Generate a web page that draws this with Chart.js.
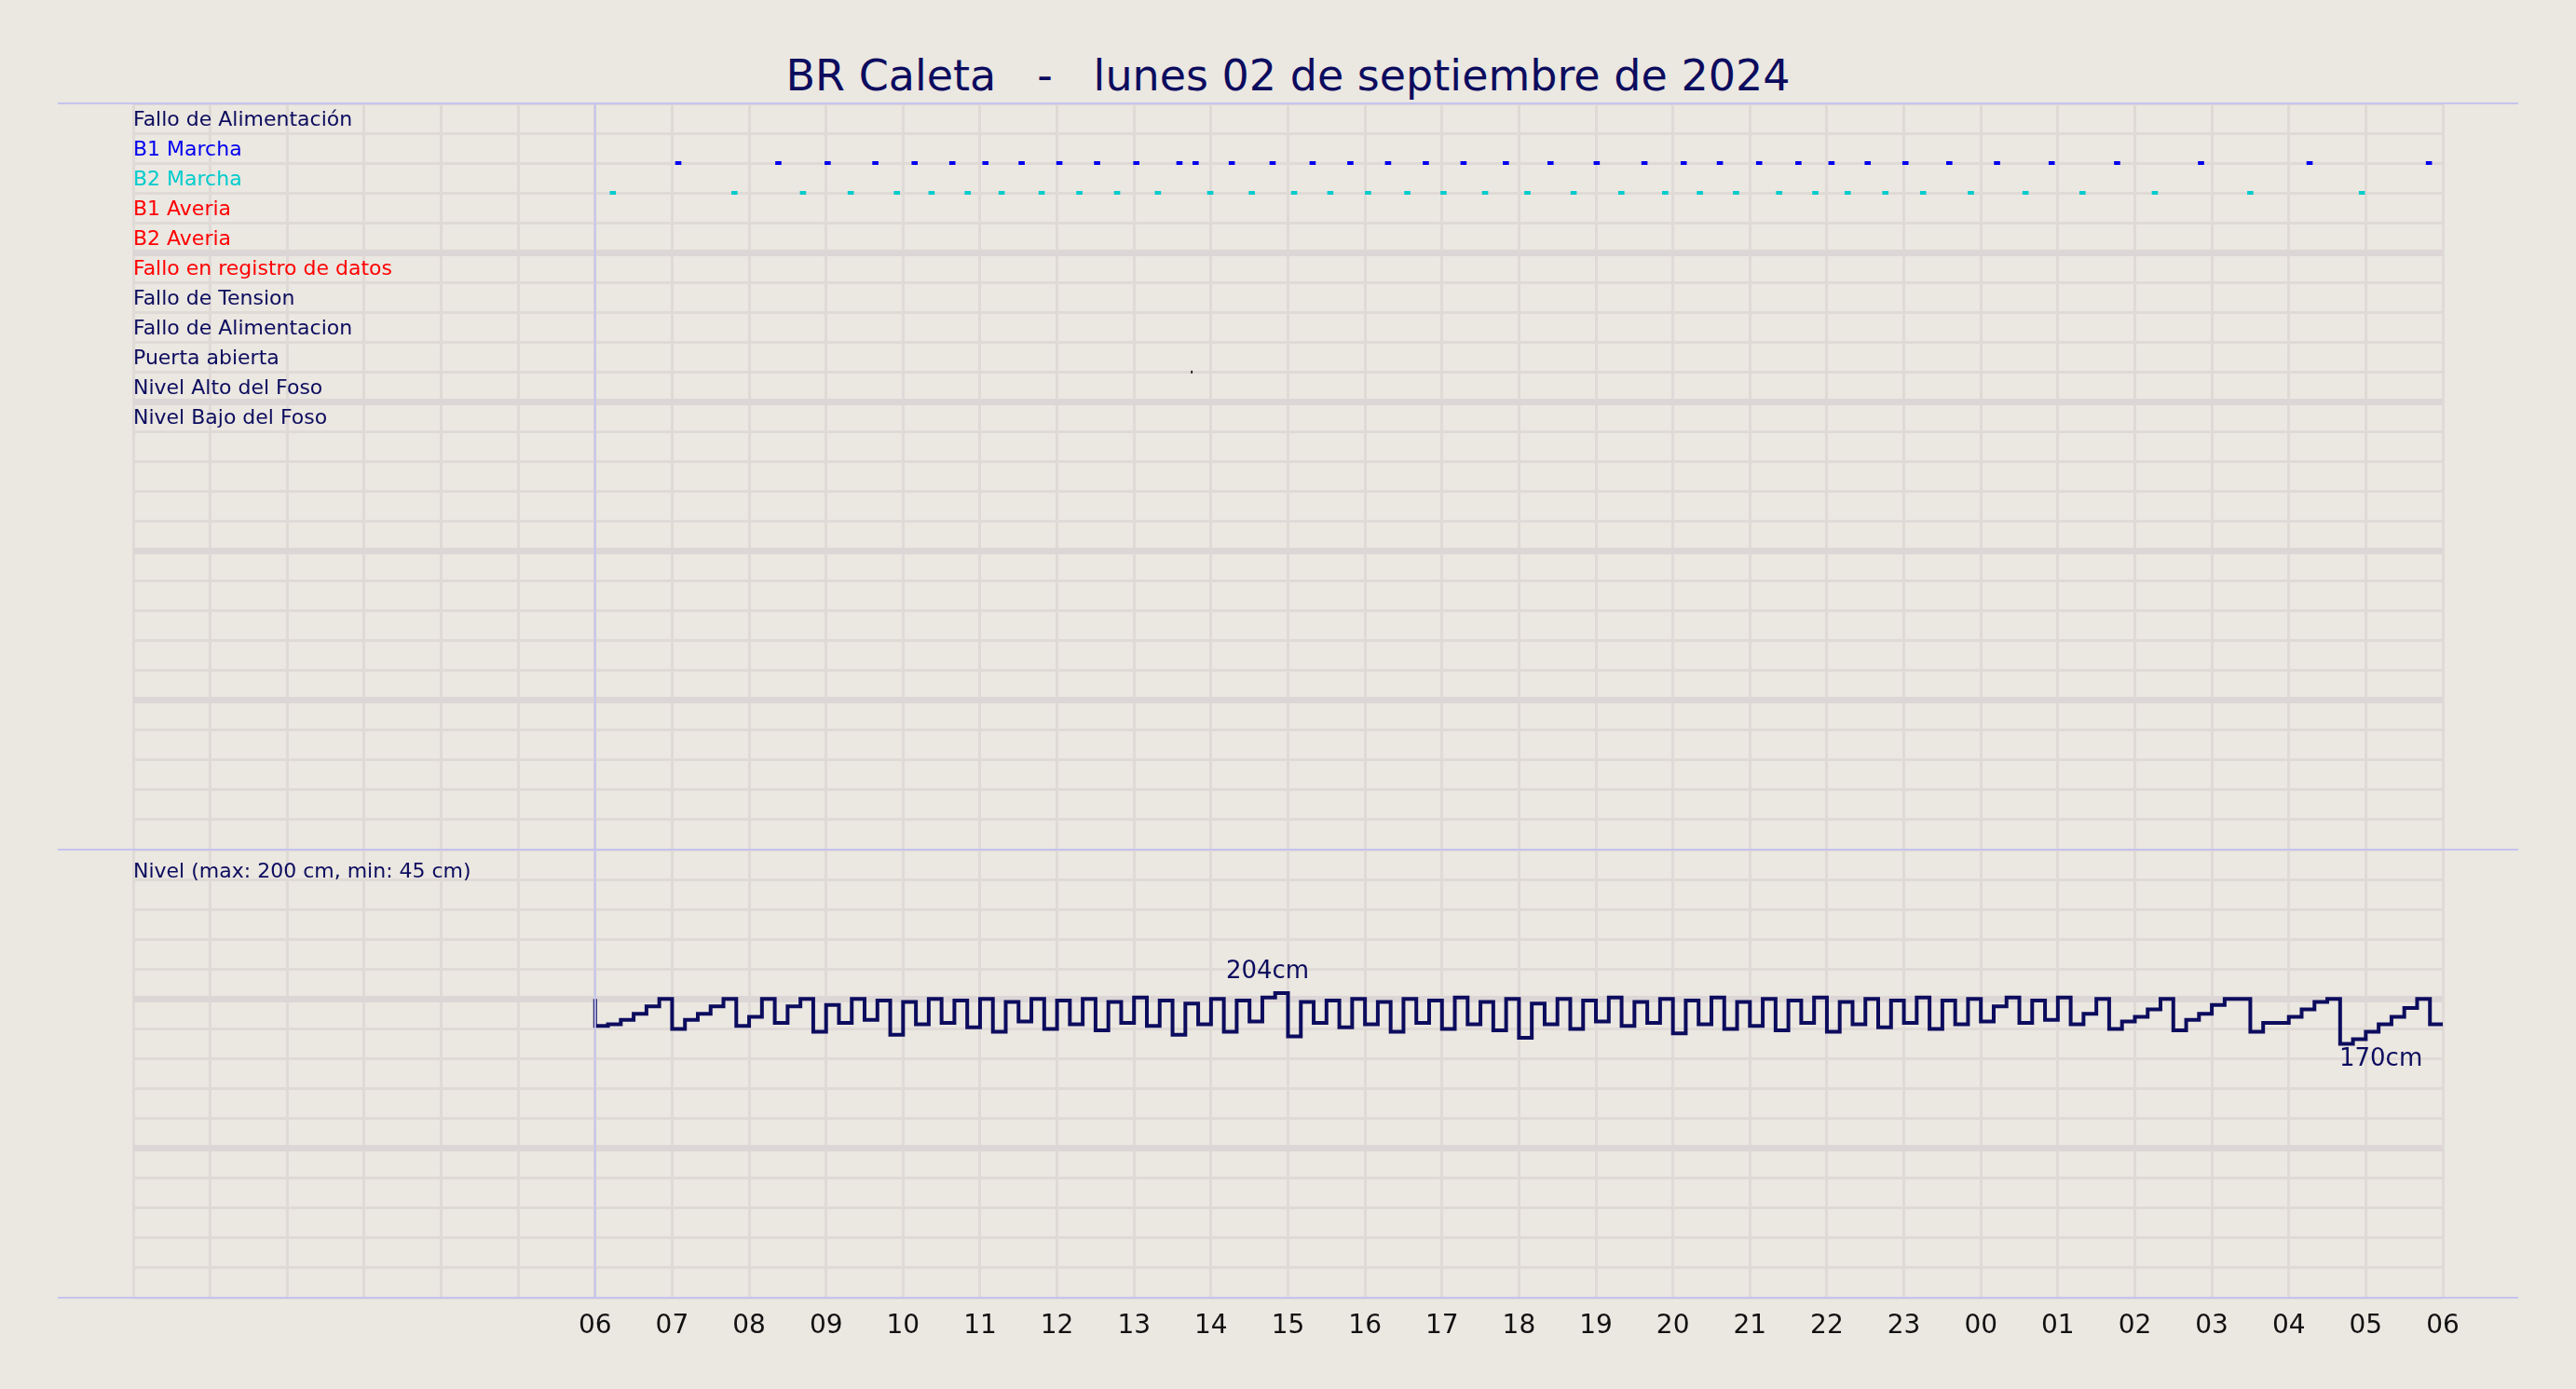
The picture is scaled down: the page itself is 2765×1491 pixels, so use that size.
<!DOCTYPE html><html><head><meta charset="utf-8">
<script src="https://cdn.jsdelivr.net/npm/chart.js@4"></script>
<style>html,body{margin:0;background:#ebe7e1;width:2765px;height:1491px;overflow:hidden;font-family:"DejaVu Sans"}
#t{position:absolute;top:54px;left:0;width:2765px;text-align:center;font-size:46px;color:#0c0c5e;white-space:pre}
canvas{position:absolute;left:0}
.hl{position:absolute;left:62px;width:2641px;height:2px;background:#c4c4ee}
</style></head><body>
<div id="t">BR Caleta   -   lunes 02 de septiembre de 2024</div>
<div style="position:absolute;top:111px;left:0;width:2765px;height:801px"><canvas id="c1"></canvas></div>
<div style="position:absolute;top:912px;left:0;width:2765px;height:579px"><canvas id="c2"></canvas></div>
<div class="hl" style="top:110px"></div><div class="hl" style="top:911px"></div><div class="hl" style="top:1392px"></div>
<script>
const categories=["Fallo de Alimentación","B1 Marcha","B2 Marcha","B1 Averia","B2 Averia","Fallo en registro de datos","Fallo de Tension","Fallo de Alimentacion","Puerta abierta","Nivel Alto del Foso","Nivel Bajo del Foso"];
const categoryColors=["#0c0c5e","#0000ee","#00cccc","#ff0000","#ff0000","#ff0000","#0c0c5e","#0c0c5e","#0c0c5e","#0c0c5e","#0c0c5e"];
const hourLabels=["06","07","08","09","10","11","12","13","14","15","16","17","18","19","20","21","22","23","00","01","02","03","04","05","06"];
const b1Events=[7.04,8.34,8.98,9.60,10.11,10.60,11.03,11.50,11.99,12.48,12.99,13.55,13.76,14.23,14.76,15.28,15.77,16.26,16.75,17.24,17.79,18.37,18.97,19.59,20.10,20.57,21.08,21.59,22.02,22.49,22.98,23.55,24.17,24.88,25.73,26.82,28.23,29.78];
const b2Events=[6.19,7.77,8.66,9.28,9.88,10.33,10.80,11.24,11.76,12.25,12.74,13.27,13.95,14.49,15.04,15.51,16.00,16.51,16.98,17.52,18.07,18.67,19.29,19.86,20.31,20.78,21.34,21.81,22.23,22.72,23.21,23.83,24.54,25.28,26.22,27.46,28.91];
const doorEvents=[13.74];
const levelStart=6; // hour
const levelValues=[
200,182,183,186,190,195, 200,180,186,190,195,200, 182,188,200,184,195,200,
178,196,184,200,186,199, 176,198,183,200,184,199, 181,200,178,198,185,200,
180,199,183,200,179,198, 184,201,182,199,176,197, 183,200,178,199,185,201,
204,175,198,184,199,181, 200,183,198,178,200,184, 199,180,201,183,198,179,
200,174,197,183,200,180, 199,185,201,182,198,184, 200,177,199,183,201,180,
198,182,200,179,199,184, 201,178,198,183,200,181, 199,184,201,180,199,183,
200,185,195,201,184,199, 186,201,183,190,200,180, 185,188,193,200,179,186,
190,196,200,200,178,184, 184,188,193,198,200,170, 173,178,183,188,194,200, 183];
const navy="#0c0c5e",grid="#e0dad7",gridThick="#ddd6d6";
const LP=143,RP=143;
function evData(arr,row,w){const d=[];arr.forEach(t=>{d.push({x:t,y:row},{x:t+w,y:row},{x:t+w,y:null});});return d;}
const xScale=(lbl)=>({type:'linear',min:0,max:30,afterFit:s=>{s.height=lbl?98:0},
 grid:{color:grid,lineWidth:3,drawTicks:false},border:{display:false},
 ticks:{display:lbl,stepSize:1,padding:14,color:'#111',font:{size:28,family:'DejaVu Sans'},autoSkip:false,maxRotation:0,
 callback:v=>v>=6?hourLabels[v-6]:''}});
const startLine={id:'sl',afterDatasetsDraw(c){const x=c.scales.x.getPixelForValue(6),a=c.chartArea,g=c.ctx;g.save();g.strokeStyle='#c4c4ee';g.lineWidth=2;g.beginPath();g.moveTo(x,a.top);g.lineTo(x,a.bottom);g.stroke();g.restore();}};
const rowLabels={id:'rl',afterDraw(c){const g=c.ctx,y=c.scales.y;g.save();g.font='22px "DejaVu Sans"';g.textBaseline='bottom';
 categories.forEach((t,i)=>{g.fillStyle=categoryColors[i];g.fillText(t,c.chartArea.left,y.getPixelForValue(i+1)-3);});g.restore();}};
new Chart(document.getElementById('c1'),{type:'line',
 data:{datasets:[
  {data:evData(b1Events,2,0.08),borderColor:'#0000ee',borderWidth:4,pointRadius:0,spanGaps:false},
  {data:evData(b2Events,3,0.08),borderColor:'#00cccc',borderWidth:4,pointRadius:0,spanGaps:false},
  {data:evData(doorEvents,9,0.02),borderColor:'#000',borderWidth:3,pointRadius:0,spanGaps:false}
 ]},
 options:{animation:false,responsive:true,maintainAspectRatio:false,layout:{padding:{left:LP,right:RP,top:0,bottom:0}},
  plugins:{legend:{display:false},tooltip:{enabled:false}},
  scales:{x:xScale(false),y:{min:0,max:25,reverse:true,afterFit:s=>{s.width=0},border:{display:false},
   grid:{drawTicks:false,color:c=>(c.tick.value%5===0)?gridThick:grid,lineWidth:c=>(c.tick.value%5===0&&c.tick.value>0&&c.tick.value<25)?7:3},
   ticks:{display:false,stepSize:1}}}},
 plugins:[startLine,rowLabels]});
const levelData=levelValues.map((v,i)=>({x:levelStart+i/6,y:v}));
const levelLabels={id:'ll',afterDatasetsDraw(c){const g=c.ctx,xs=c.scales.x,ys=c.scales.y;
 let mx=0,mn=0;levelValues.forEach((v,i)=>{if(v>levelValues[mx])mx=i;if(v<levelValues[mn])mn=i;});
 g.save();g.font='26px "DejaVu Sans"';g.fillStyle=navy;g.textAlign='center';
 g.textBaseline='bottom';g.fillText(levelValues[mx]+'cm',xs.getPixelForValue(levelData[mx].x)-22,ys.getPixelForValue(levelValues[mx])-10);
 g.textBaseline='top';g.fillText(levelValues[mn]+'cm',xs.getPixelForValue(levelData[mn].x)+30,ys.getPixelForValue(levelValues[mn])+4);
 g.font='22px "DejaVu Sans"';g.textAlign='left';g.textBaseline='top';g.fillText('Nivel (max: 200 cm, min: 45 cm)',c.chartArea.left,ys.getPixelForValue(300)+13);g.restore();}};
new Chart(document.getElementById('c2'),{type:'line',
 data:{datasets:[{data:levelData,stepped:'after',borderColor:navy,borderWidth:4,pointRadius:0}]},
 options:{animation:false,responsive:true,maintainAspectRatio:false,layout:{padding:{left:LP,right:RP,top:0,bottom:0}},
  plugins:{legend:{display:false},tooltip:{enabled:false}},
  scales:{x:xScale(true),y:{min:0,max:300,afterFit:s=>{s.width=0},border:{display:false},
   grid:{drawTicks:false,color:c=>(c.tick.value===100||c.tick.value===200)?gridThick:grid,lineWidth:c=>(c.tick.value===100||c.tick.value===200)?7:3},
   ticks:{display:false,stepSize:20}}}},
 plugins:[startLine,levelLabels]});
</script></body></html>
